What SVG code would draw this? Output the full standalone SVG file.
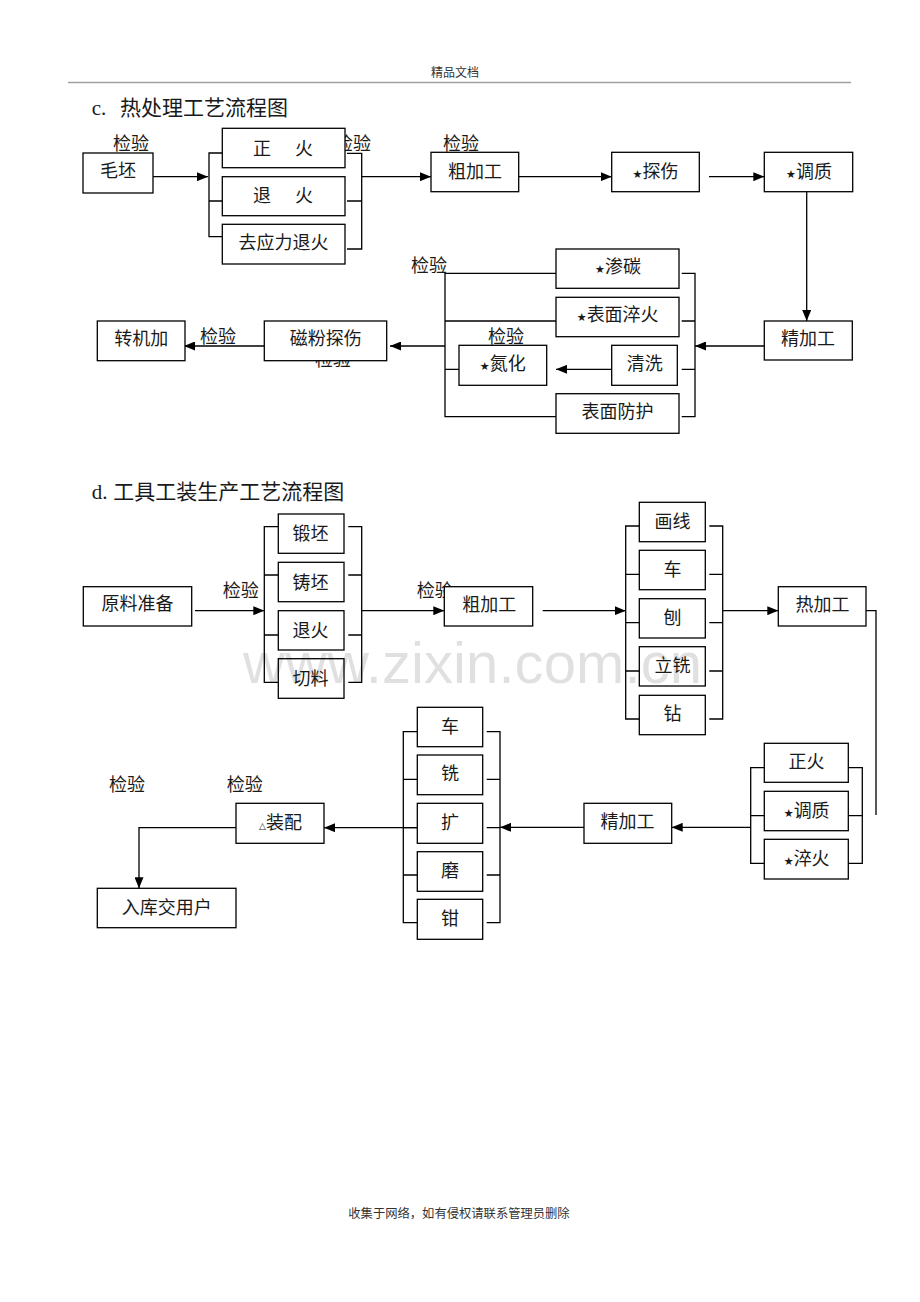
<svg xmlns="http://www.w3.org/2000/svg" width="920" height="1302" viewBox="0 0 920 1302">
<style>
.box{fill:#fff;stroke:#000;stroke-width:1.3}
.t{font-family:"Liberation Sans","Noto Sans CJK SC",sans-serif;font-size:18px;fill:#1a1a1a;text-anchor:middle}
.lb{font-family:"Liberation Sans","Noto Sans CJK SC",sans-serif;font-size:18px;fill:#1a1a1a}
.ln{fill:none;stroke:#000;stroke-width:1.3}
.ar{fill:none;stroke:#000;stroke-width:1.3;marker-end:url(#ah)}
.st{font-family:"DejaVu Sans",sans-serif;font-size:11px}
.ttl{font-family:"Liberation Serif","Noto Sans CJK SC",serif;font-size:21px;fill:#1a1a1a}
</style>
<defs>
<marker id="ah" markerUnits="userSpaceOnUse" markerWidth="11" markerHeight="9" refX="11" refY="4.5" orient="auto">
<path d="M0,0 L11,4.5 L0,9 z" fill="#000"/>
</marker>
</defs>
<rect width="920" height="1302" fill="#fff"/>
<g id="header">
<text x="455" y="77" text-anchor="middle" font-family="Liberation Sans, Noto Sans CJK SC, sans-serif" font-size="12" fill="#333">精品文档</text>
<line x1="68" y1="82.5" x2="851" y2="82.5" stroke="#a0a0a0" stroke-width="1.5"/>
</g>
<g id="titles">
<text class="ttl" x="91.7" y="115">c.<tspan x="120">热处理工艺流程图</tspan></text>
<text class="ttl" x="91.7" y="499">d.<tspan x="113.3">工具工装生产工艺流程图</tspan></text>
</g>
<g id="labels">
<text class="lb" x="113" y="150">检验</text>
<text class="lb" x="335" y="150">检验</text>
<text class="lb" x="443" y="150">检验</text>
<text class="lb" x="411" y="271.5">检验</text>
<text class="lb" x="488" y="342.5">检验</text>
<text class="lb" x="200" y="342.5">检验</text>
<text class="lb" x="315" y="366">检验</text>
<text class="lb" x="222.7" y="596.7" font-size="20">检验</text>
<text class="lb" x="416.7" y="597" font-size="17">检验</text>
<text class="lb" x="109" y="790.5" font-size="20">检验</text>
<text class="lb" x="226.7" y="790.5" font-size="20">检验</text>
</g>
<g id="connectors">
<path class="ar" d="M152.7,176.7 H208"/>
<path class="ln" d="M222.3,153 H209 V236.7 H222.3 M209,201 H222.3"/>
<path class="ln" d="M347,153.3 H361.7 V249 H347 M347,201 H361.7"/>
<path class="ar" d="M361.7,176.7 H431"/>
<path class="ar" d="M516,176.7 H611.7"/>
<path class="ar" d="M709,176.7 H764.3"/>
<path class="ar" d="M806.7,191.7 V321"/>
<path class="ar" d="M764.3,346 H695"/>
<path class="ln" d="M681.7,273.3 H695 V416.7 H681.7 M681.7,321 H695 M681.7,369.3 H695"/>
<path class="ar" d="M611.7,369.3 H556"/>
<path class="ln" d="M556,273.3 H445 V416.7 H556 M445,321 H556 M445,369.3 H459"/>
<path class="ar" d="M445,346 H390"/>
<path class="ar" d="M264.3,346 H184"/>
<path class="ar" d="M195,610.7 H264.3"/>
<path class="ln" d="M278.3,526.7 H264.3 V682.3 H278.3 M264.3,575 H278.3 M264.3,635 H278.3"/>
<path class="ln" d="M348.3,526.7 H361.7 V682.3 H348.3 M348.3,575 H361.7 M348.3,635 H361.7"/>
<path class="ar" d="M361.7,610.7 H444.3"/>
<path class="ar" d="M542.7,610.7 H625.7"/>
<path class="ln" d="M639.3,526 H625.7 V719 H639.3 M625.7,574.3 H639.3 M625.7,622.7 H639.3 M625.7,671 H639.3"/>
<path class="ln" d="M709.3,526 H722.7 V719 H709.3 M709.3,574.3 H722.7 M709.3,622.7 H722.7 M709.3,671 H722.7"/>
<path class="ar" d="M722.7,610.7 H778.3"/>
<path class="ln" d="M863.3,610.7 H876 V815"/>
<path class="ln" d="M764.3,767.7 H750.7 V863.3 H764.3 M750.7,815.7 H764.3"/>
<path class="ln" d="M848.3,767.7 H862.3 V863.3 H848.3 M848.3,815.7 H862.3"/>
<path class="ar" d="M750.7,827.3 H671.7"/>
<path class="ar" d="M584,827.3 H500"/>
<path class="ln" d="M417.3,731.7 H403.3 V922.7 H417.3 M403.3,779.3 H417.3 M403.3,827.7 H417.3 M403.3,875 H417.3"/>
<path class="ln" d="M486.7,731.7 H500 V922.7 H486.7 M486.7,779.3 H500 M486.7,827.7 H500 M486.7,875 H500"/>
<path class="ar" d="M417.3,827.7 H324"/>
<path class="ar" d="M236,827.7 H139 V888.3"/>
</g>
<g id="n-maopi"><rect class="box" x="83" y="153" width="70" height="40"/><text class="t" x="118" y="176.5">毛坯</text></g>
<g id="n-zhenghuo"><rect class="box" x="222.3" y="128.3" width="122.7" height="39.4"/><text class="t" y="154.8"><tspan x="262">正</tspan><tspan x="304">火</tspan></text></g>
<g id="n-tuihuo"><rect class="box" x="222.3" y="176.7" width="122.7" height="39"/><text class="t" y="201.8"><tspan x="262">退</tspan><tspan x="304">火</tspan></text></g>
<g id="n-quyingli"><rect class="box" x="222.3" y="224.3" width="122.7" height="39.7"/><text class="t" x="283.5" y="249.3">去应力退火</text></g>
<g id="n-cujiagong"><rect class="box" x="431" y="152.3" width="87.7" height="39.4"/><text class="t" x="475" y="177.5">粗加工</text></g>
<g id="n-tanshang"><rect class="box" x="611.7" y="152.3" width="87.6" height="39.4"/><text class="t" x="655.5" y="177.5"><tspan class="st">★</tspan>探伤</text></g>
<g id="n-tiaozhi"><rect class="box" x="764.3" y="152.3" width="88.4" height="39.4"/><text class="t" x="809" y="177.5"><tspan class="st">★</tspan>调质</text></g>
<g id="n-jingjiagong"><rect class="box" x="764.3" y="321" width="88" height="39"/><text class="t" x="808" y="344.8">精加工</text></g>
<g id="n-shentan"><rect class="box" x="556" y="249" width="123" height="39.3"/><text class="t" x="618" y="273.2"><tspan class="st">★</tspan>渗碳</text></g>
<g id="n-biaomiancuihuo"><rect class="box" x="556" y="297.3" width="123" height="39.4"/><text class="t" x="617.7" y="321"><tspan class="st">★</tspan>表面淬火</text></g>
<g id="n-qingxi"><rect class="box" x="611.7" y="345.3" width="65.6" height="40"/><text class="t" x="644.7" y="369.5">清洗</text></g>
<g id="n-danhua"><rect class="box" x="459" y="345.3" width="87.7" height="40"/><text class="t" x="502.8" y="369.5"><tspan class="st">★</tspan>氮化</text></g>
<g id="n-fanghu"><rect class="box" x="556" y="393.7" width="123" height="39.6"/><text class="t" x="617.5" y="418">表面防护</text></g>
<g id="n-cifen"><rect class="box" x="264.3" y="321" width="122.4" height="39.7"/><text class="t" x="325.7" y="345.2">磁粉探伤</text></g>
<g id="n-zhuanjijia"><rect class="box" x="97.3" y="321" width="87.7" height="39.7"/><text class="t" x="141.2" y="345.2">转机加</text></g>
<g id="n-yuanliao"><rect class="box" x="83.3" y="586.7" width="108.4" height="39.3"/><text class="t" x="137.5" y="610.2">原料准备</text></g>
<g id="n-duanpi"><rect class="box" x="278.3" y="514" width="65.7" height="39.3"/><text class="t" x="310.5" y="539.8">锻坯</text></g>
<g id="n-zhupi"><rect class="box" x="278.3" y="562.3" width="65.7" height="39.4"/><text class="t" x="310.5" y="588.5">铸坯</text></g>
<g id="n-tuihuo2"><rect class="box" x="278.3" y="610.7" width="65.7" height="39.3"/><text class="t" x="310.5" y="636.5">退火</text></g>
<g id="n-qieliao"><rect class="box" x="278.3" y="658.7" width="65.7" height="39.6"/><text class="t" x="310.5" y="684.5">切料</text></g>
<g id="n-cujiagong2"><rect class="box" x="444.3" y="586.7" width="88.4" height="39.3"/><text class="t" x="489.2" y="611.2">粗加工</text></g>
<g id="n-huaxian"><rect class="box" x="639.3" y="502.3" width="66" height="39.4"/><text class="t" x="672.5" y="527.8">画线</text></g>
<g id="n-che1"><rect class="box" x="639.3" y="550.3" width="66" height="39.4"/><text class="t" x="672.5" y="576">车</text></g>
<g id="n-bao"><rect class="box" x="639.3" y="598.7" width="66" height="39.3"/><text class="t" x="672.5" y="623.7">刨</text></g>
<g id="n-lixi"><rect class="box" x="639.3" y="646.7" width="66" height="39.3"/><text class="t" x="672.5" y="672.3">立铣</text></g>
<g id="n-zuan"><rect class="box" x="639.3" y="695.3" width="66" height="39.4"/><text class="t" x="672.5" y="719.8">钻</text></g>
<g id="n-rejiagong"><rect class="box" x="778.3" y="586.7" width="87.7" height="39.3"/><text class="t" x="822.5" y="611.2">热加工</text></g>
<g id="n-zhenghuo2"><rect class="box" x="764.3" y="743.3" width="84" height="39"/><text class="t" x="806.5" y="768.2">正火</text></g>
<g id="n-tiaozhi2"><rect class="box" x="764.3" y="791.3" width="84" height="39.4"/><text class="t" x="806.7" y="816.5"><tspan class="st">★</tspan>调质</text></g>
<g id="n-cuihuo2"><rect class="box" x="764.3" y="839.3" width="84" height="39.7"/><text class="t" x="806.7" y="864.8"><tspan class="st">★</tspan>淬火</text></g>
<g id="n-jingjiagong2"><rect class="box" x="584" y="803.3" width="87.7" height="40"/><text class="t" x="627.5" y="828.2">精加工</text></g>
<g id="n-che2"><rect class="box" x="417.3" y="707.3" width="65.4" height="39.4"/><text class="t" x="450" y="733.2">车</text></g>
<g id="n-xi"><rect class="box" x="417.3" y="755" width="65.4" height="39.7"/><text class="t" x="450" y="780.3">铣</text></g>
<g id="n-kuo"><rect class="box" x="417.3" y="803.3" width="65.4" height="40"/><text class="t" x="450" y="829.3">扩</text></g>
<g id="n-mo"><rect class="box" x="417.3" y="851.7" width="65.4" height="39.6"/><text class="t" x="450" y="877">磨</text></g>
<g id="n-qian"><rect class="box" x="417.3" y="899.3" width="65.4" height="40"/><text class="t" x="450" y="924.8">钳</text></g>
<g id="n-zhuangpei"><rect class="box" x="236" y="803.3" width="88" height="40"/><text class="t" x="280.5" y="829"><tspan font-family="DejaVu Sans, sans-serif" font-size="9">△</tspan>装配</text></g>
<g id="n-ruku"><rect class="box" x="97.3" y="888.3" width="138.7" height="39.4"/><text class="t" x="166.7" y="913.7">入库交用户</text></g>
<g id="watermark">
<text x="243" y="683" font-family="Liberation Sans, Arial, sans-serif" font-size="58" fill="#000" fill-opacity="0.12" textLength="459" lengthAdjust="spacing">www.zixin.com.cn</text>
</g>
<g id="footer">
<text x="459" y="1218" text-anchor="middle" font-family="Liberation Sans, Noto Sans CJK SC, sans-serif" font-size="12.3" fill="#333">收集于网络，如有侵权请联系管理员删除</text>
</g>
</svg>
